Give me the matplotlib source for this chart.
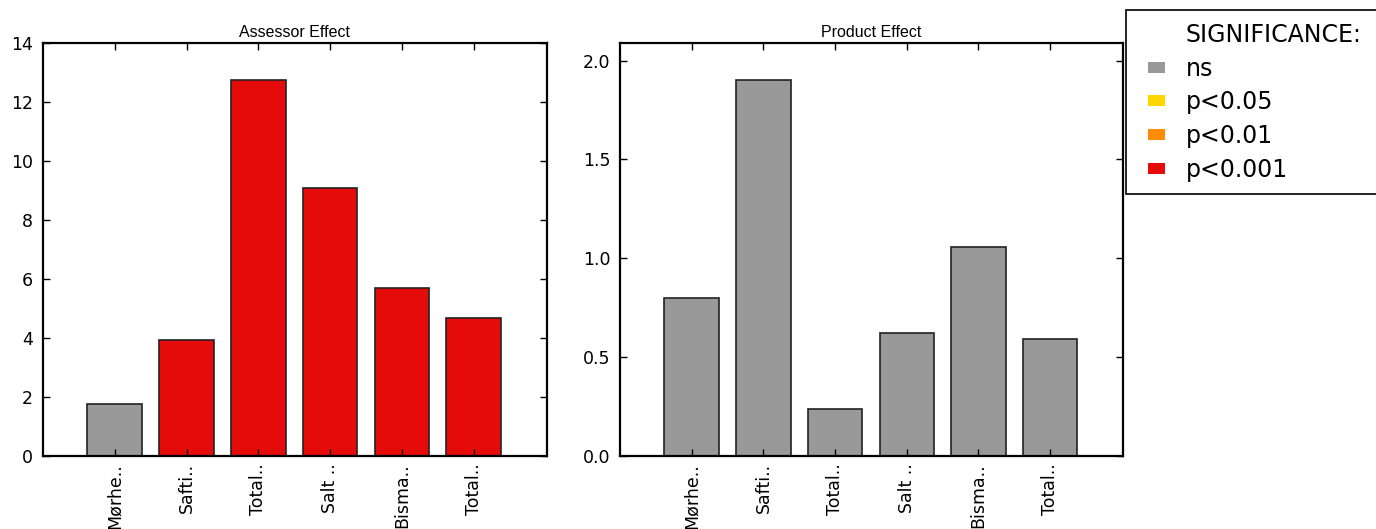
import matplotlib
matplotlib.use("Agg")
import matplotlib.pyplot as plt
from matplotlib.patches import Patch, Rectangle

attributes = ["Mørhe..", "Safti..", "Total..", "Salt ..", "Bisma..", "Total.."]
assessor_f = [1.76, 3.92, 12.73, 9.10, 5.68, 4.67]
assessor_sig = ["ns", "p<0.001", "p<0.001", "p<0.001", "p<0.001", "p<0.001"]
product_f = [0.80, 1.90, 0.24, 0.62, 1.055, 0.59]
product_sig = ["ns", "ns", "ns", "ns", "ns", "ns"]

sig_levels = ["ns", "p<0.05", "p<0.01", "p<0.001"]
sig_colors = {"ns": "#999999", "p<0.05": "#ffd700",
              "p<0.01": "#ff8c00", "p<0.001": "#e50b0b"}

plt.rcParams["axes.linewidth"] = 1.6

W, H = 1376, 529
fig = plt.figure(figsize=(W / 100, H / 100), dpi=100)
ax1 = fig.add_axes([0.0312, 0.138, 0.3663, 0.781])
ax2 = fig.add_axes([0.4506, 0.138, 0.3657, 0.781])


def effect_plot(ax, values, sig, title):
    x = range(len(values))
    ax.bar(x, values, width=0.76, align="center",
           color=[sig_colors[s] for s in sig], edgecolor="#222222", linewidth=1.2)
    ax.set_xlim(-1, 6.02)
    ax.set_ylim(0, max(values) * 1.1)
    ax.set_xticks(list(x))
    ax.set_xticklabels(attributes, rotation=90, fontsize=12.5)
    ax.tick_params(direction="in", top=True, right=True, length=5, width=1)
    ax.tick_params(axis="x", pad=5)
    ax.tick_params(axis="y", labelsize=12.5, pad=7)
    ax.set_title(title, fontsize=11.5, family=["Liberation Sans"], pad=4)


effect_plot(ax1, assessor_f, assessor_sig, "Assessor Effect")
effect_plot(ax2, product_f, product_sig, "Product Effect")
ax1.set_yticks(range(0, 15, 2))
ax2.set_yticks([0.0, 0.5, 1.0, 1.5, 2.0])

# header row is an entry with an empty handle so it lines up with the labels
handles = [Patch(facecolor="none", edgecolor="none")]
handles += [Patch(facecolor=sig_colors[s], edgecolor="none") for s in sig_levels]
labels = ["SIGNIFICANCE:"] + sig_levels
fig.legend(handles, labels, loc="upper left",
           bbox_to_anchor=(1148 / W, 1 - 23 / H), fontsize=17,
           frameon=False, handlelength=0.7, handleheight=0.35,
           handletextpad=0.9, labelspacing=0.41, borderpad=0,
           borderaxespad=0)
# legend box runs off the right edge of the figure
fig.patches.append(Rectangle((1126 / W, 1 - 194 / H), 300 / W, 184 / H,
                             transform=fig.transFigure, facecolor="white",
                             edgecolor="black", linewidth=1.2, zorder=-1))

fig.savefig("out.png", dpi=100)
